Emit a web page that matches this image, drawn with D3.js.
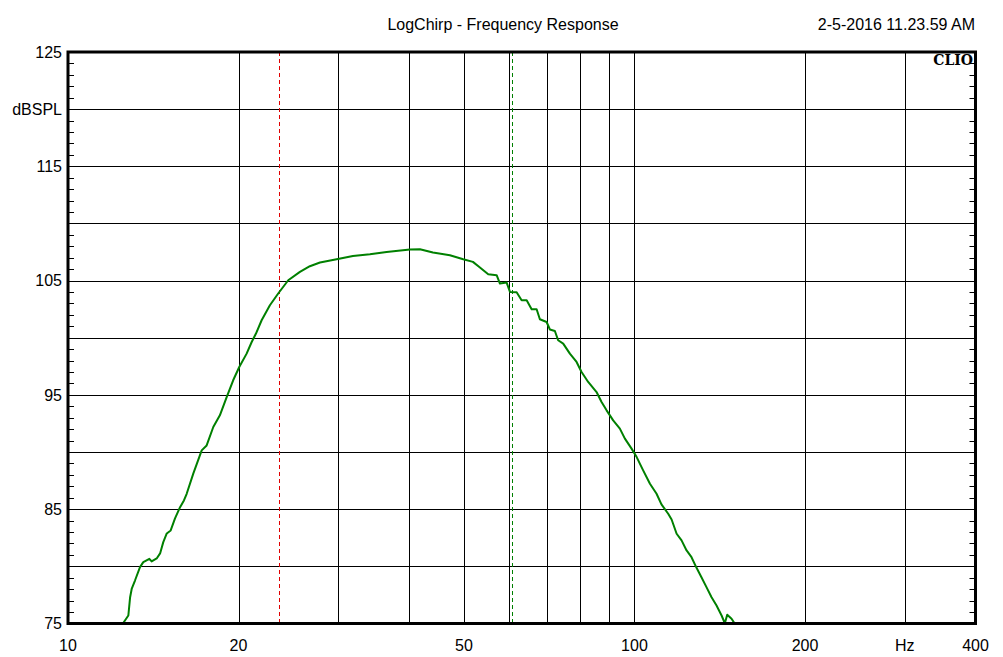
<!DOCTYPE html>
<html>
<head>
<meta charset="utf-8">
<script src="https://cdn.jsdelivr.net/npm/d3@7/dist/d3.min.js"></script>
<style>
  html, body { margin: 0; padding: 0; background: #fff; }
  svg { display: block; }
  text { font-family: "Liberation Sans", Arial, sans-serif; fill: #000; }
</style>
</head>
<body>
<svg id="chart" width="1003" height="657"></svg>
<script>
// ---- data ----
const title = "LogChirp - Frequency Response";
const stamp = "2-5-2016 11.23.59 AM";
const freqHz = [12.3, 12.5, 12.78, 12.87, 12.96, 13.13, 13.40, 13.58, 13.92, 14.05, 14.34, 14.54, 14.73, 14.94, 15.18, 15.45, 15.77, 16.02,
  16.20, 16.64, 17.22, 17.57, 18.05, 18.54, 19.06, 19.57, 20.06, 20.67, 21.10, 21.47, 21.97, 22.72, 23.50, 24.48, 25.67, 26.73, 27.85,
  29.80, 31.84, 34.12, 36.51, 40.14, 41.81, 44.08, 47.23, 49.86, 51.86, 53.36, 55.19, 57.11, 57.88, 59.48, 60.29, 61.94, 63.21, 64.52,
  65.84, 67.19, 68.08, 69.97, 70.91, 72.36, 73.33, 74.85, 76.91, 79.03, 80.65, 82.85, 85.72, 87.48, 89.29, 91.71, 94.24, 96.19, 98.83,
  100.9, 103.6, 106.5, 109.4, 111.6, 114.7, 116.3, 118.7, 121.1, 123.6, 126.1, 128.7, 131.3, 134.0, 136.8, 139.6, 142.5, 144.4, 145.8,
  148.4, 150.4, 152.0];
const splDb = [74.0, 75.0, 75.7, 77.27, 78.06, 78.76, 79.93, 80.37, 80.66, 80.43, 80.69, 81.13, 82.12, 82.88, 83.14, 84.19, 85.18, 85.77,
  86.35, 88.11, 90.15, 90.58, 92.19, 93.21, 94.81, 96.28, 97.44, 98.61, 99.63, 100.37, 101.53, 102.84, 103.87, 105.03, 105.76, 106.26, 106.58,
  106.87, 107.16, 107.31, 107.51, 107.72, 107.75, 107.46, 107.22, 106.87, 106.64, 106.15, 105.56, 105.47, 104.74, 104.83, 104.01, 103.98, 103.28, 103.28,
  102.49, 102.49, 101.62, 101.38, 100.72, 100.59, 99.78, 99.49, 98.61, 97.88, 97.00, 96.13, 95.25, 94.38, 93.65, 92.77, 92.05, 91.17, 90.30,
  89.56, 88.40, 87.23, 86.35, 85.42, 84.60, 84.10, 82.85, 82.27, 81.39, 80.80, 79.87, 79.05, 78.18, 77.30, 76.57, 75.70, 75.02, 75.76,
  75.41, 74.97, 74.0];
const xGridHz = [20, 30, 40, 50, 60, 70, 80, 90, 100, 200, 300];
const xTickLabels = [[10, "10"], [20, "20"], [50, "50"], [100, "100"], [200, "200"], [300, "Hz"], [400, "400"]];
const yGridDb = [80, 85, 90, 95, 100, 105, 110, 115, 120];
const yTickLabels = [[125, "125"], [120, "dBSPL"], [115, "115"], [105, "105"], [95, "95"], [85, "85"], [75, "75"]];
const markerRedHz = 23.6;
const markerGreenHz = 60.8;

// ---- layout ----
const svg = d3.select("#chart");
const L = 68, R = 975.5, T = 52, B = 623.5;
const x = d3.scaleLog().domain([10, 400]).range([L, R]);
const y = d3.scaleLinear().domain([75, 125]).range([B, T]);

svg.append("defs").append("clipPath").attr("id", "plotclip")
  .append("rect").attr("x", L).attr("y", T).attr("width", R - L).attr("height", B - T);

// grid
const g = svg.append("g");
g.selectAll(".vx").data(xGridHz).join("line")
  .attr("x1", d => Math.round(x(d)) + 0.5).attr("x2", d => Math.round(x(d)) + 0.5)
  .attr("y1", T).attr("y2", B).attr("stroke", "#000").attr("stroke-width", 1);
g.selectAll(".hy").data(yGridDb).join("line")
  .attr("y1", d => Math.round(y(d)) + 0.5).attr("y2", d => Math.round(y(d)) + 0.5)
  .attr("x1", L).attr("x2", R).attr("stroke", "#000").attr("stroke-width", 1);

// minor ticks every 1 dB on left and right
const minor = d3.range(76, 125).filter(v => v % 5 !== 0);
g.selectAll(".ml").data(minor).join("line")
  .attr("y1", d => Math.round(y(d)) + 0.5).attr("y2", d => Math.round(y(d)) + 0.5)
  .attr("x1", L).attr("x2", L + 6).attr("stroke", "#000");
g.selectAll(".mr").data(minor).join("line")
  .attr("y1", d => Math.round(y(d)) + 0.5).attr("y2", d => Math.round(y(d)) + 0.5)
  .attr("x1", R - 6).attr("x2", R).attr("stroke", "#000");

// markers
svg.append("line").attr("x1", Math.round(x(markerRedHz)) + 0.5).attr("x2", Math.round(x(markerRedHz)) + 0.5)
  .attr("y1", T).attr("y2", B).attr("stroke", "#e00000").attr("stroke-width", 1).attr("stroke-dasharray", "4,3");
svg.append("line").attr("x1", Math.round(x(markerGreenHz)) + 0.5).attr("x2", Math.round(x(markerGreenHz)) + 0.5)
  .attr("y1", T).attr("y2", B).attr("stroke", "#008000").attr("stroke-width", 1).attr("stroke-dasharray", "4,3");

// curve
const pts = freqHz.map((f, i) => [f, splDb[i]]);
svg.append("path").datum(pts)
  .attr("clip-path", "url(#plotclip)")
  .attr("fill", "none").attr("stroke", "#008000").attr("stroke-width", 2)
  .attr("stroke-linejoin", "round")
  .attr("d", d3.line().x(d => x(d[0])).y(d => y(d[1])));

// border
svg.append("rect").attr("x", L).attr("y", T).attr("width", R - L).attr("height", B - T)
  .attr("fill", "none").attr("stroke", "#000").attr("stroke-width", 3);

// labels
svg.selectAll(".yl").data(yTickLabels).join("text")
  .attr("x", 62).attr("y", d => y(d[0])).attr("dy", "0.36em")
  .attr("text-anchor", "end").attr("font-size", 16).text(d => d[1]);
svg.selectAll(".xl").data(xTickLabels).join("text")
  .attr("x", d => x(d[0])).attr("y", 651)
  .attr("text-anchor", "middle").attr("font-size", 16).text(d => d[1]);

svg.append("text").attr("x", 503).attr("y", 30).attr("text-anchor", "middle")
  .attr("font-size", 16).text(title);
svg.append("text").attr("x", 975).attr("y", 30).attr("text-anchor", "end")
  .attr("font-size", 16).text(stamp);
svg.append("text").attr("x", 973).attr("y", 65).attr("text-anchor", "end")
  .attr("font-size", 14).attr("font-weight", "bold")
  .style("font-family", "'DejaVu Serif', 'Liberation Serif', serif").text("CLIO");
</script>
</body>
</html>
